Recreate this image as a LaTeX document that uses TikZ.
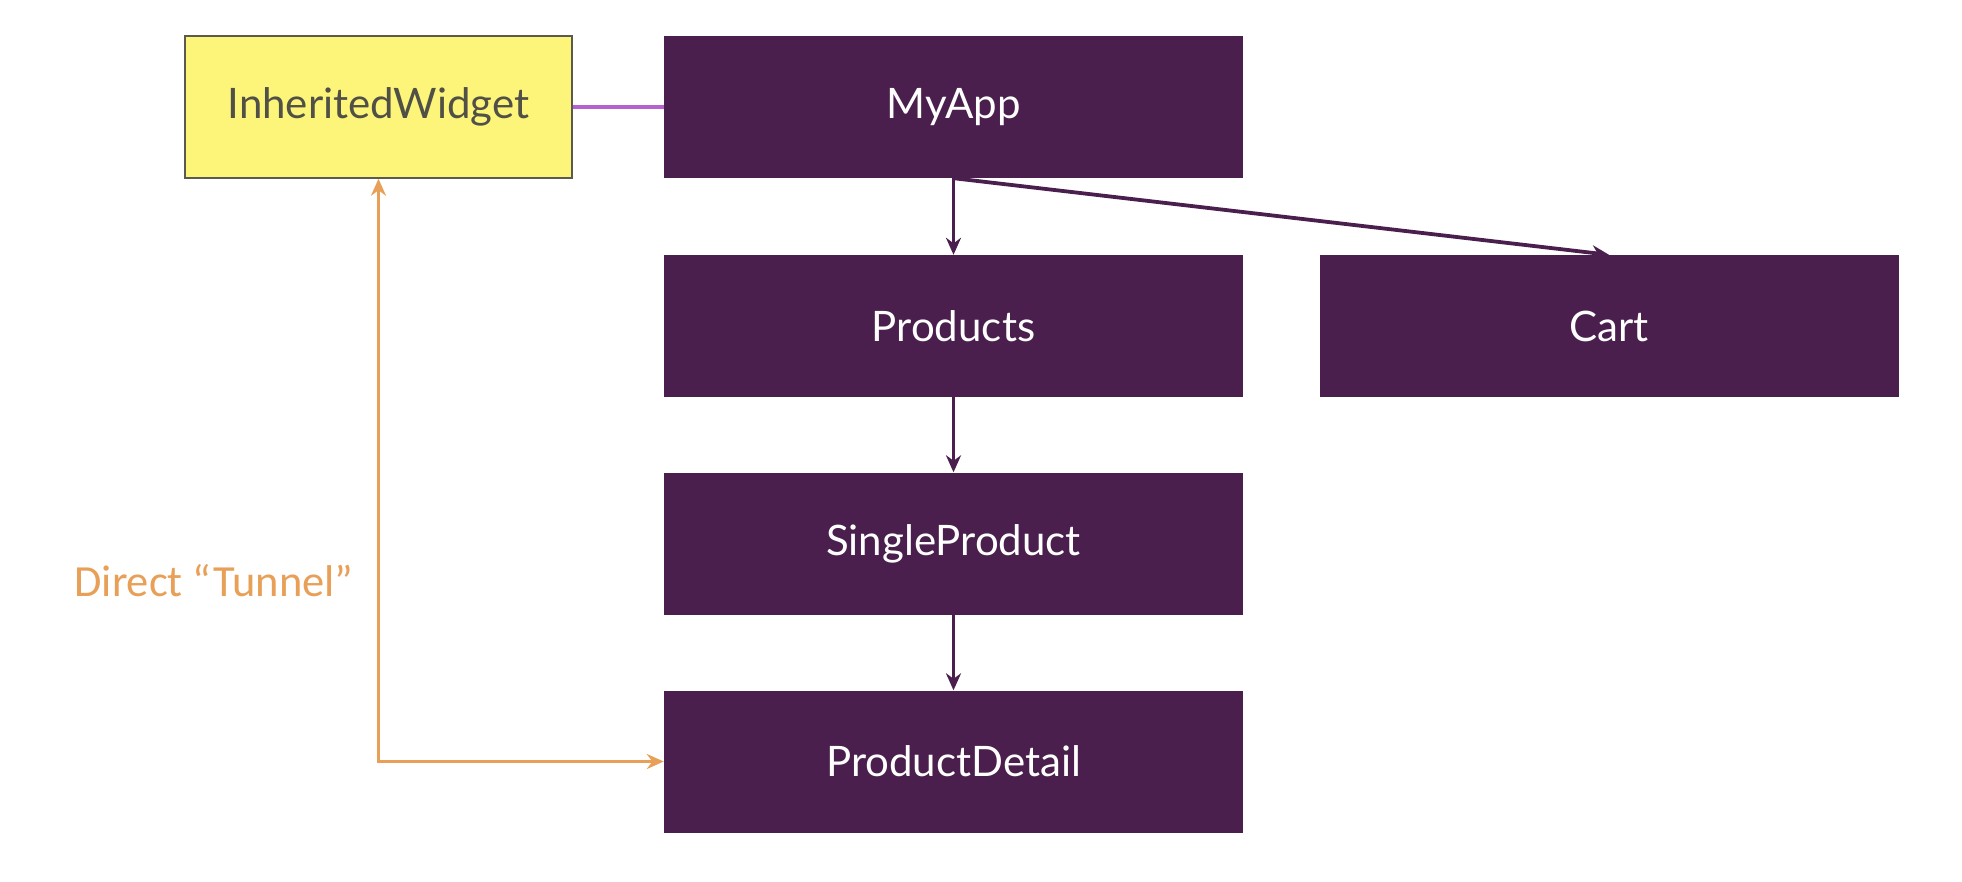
\documentclass[tikz,border=0pt]{standalone}
\usepackage{fontspec}
\setmainfont{Lato}
\newfontfamily\labelfont{Carlito}
\usetikzlibrary{arrows.meta}
\definecolor{boxpurple}{RGB}{74,31,78}
\definecolor{iwyellow}{RGB}{253,245,122}
\definecolor{iwborder}{RGB}{90,90,80}
\definecolor{iwtext}{RGB}{80,80,70}
\definecolor{tunnel}{RGB}{232,160,88}
\definecolor{linkviolet}{RGB}{181,97,208}
\tikzset{
  widgetbox/.style={draw=none, fill=boxpurple, text=white, minimum width=579pt, minimum height=142pt, inner sep=0pt, font=\fontsize{42}{48}\selectfont},
  inhbox/.style={draw=iwborder, line width=1.5pt, fill=iwyellow, text=iwtext, minimum width=387pt, minimum height=142pt, inner sep=0pt, font=\fontsize{42}{48}\selectfont},
  treearrow/.style={draw=boxpurple, line width=3.8pt, -{Stealth[length=17pt,width=15pt]}},
  tunnelarrow/.style={draw=tunnel, line width=3.8pt, {Stealth[length=17pt,width=15pt]}-{Stealth[length=17pt,width=15pt]}},
  linkline/.style={draw=linkviolet, line width=3.8pt}
}
\begin{document}
\begin{tikzpicture}[x=1pt,y=-1pt]
\useasboundingbox (0,0) rectangle (1962,882);
\node[inhbox] (iw) at (378.5,107) {InheritedWidget};
\node[widgetbox] (myapp) at (953.5,107) {MyApp};
\node[widgetbox] (products) at (953.5,326) {Products};
\node[widgetbox] (cart) at (1609,326) {Cart};
\node[widgetbox] (single) at (953.5,543.5) {SingleProduct};
\node[widgetbox] (detail) at (953.5,761.5) {ProductDetail};
\node[text=tunnel, font=\labelfont\fontsize{44.5}{50}\selectfont, anchor=center] (tlabel) at (214,581) {Direct “Tunnel”};
\draw[linkline] (iw.east) -- (myapp.west);
\draw[treearrow] (myapp.south) -- (products.north);
\draw[treearrow] (myapp.south) -- (cart.north);
\draw[treearrow] (products.south) -- (single.north);
\draw[treearrow] (single.south) -- (detail.north);
\draw[tunnelarrow] (iw.south) |- (detail.west);
\end{tikzpicture}
\end{document}
